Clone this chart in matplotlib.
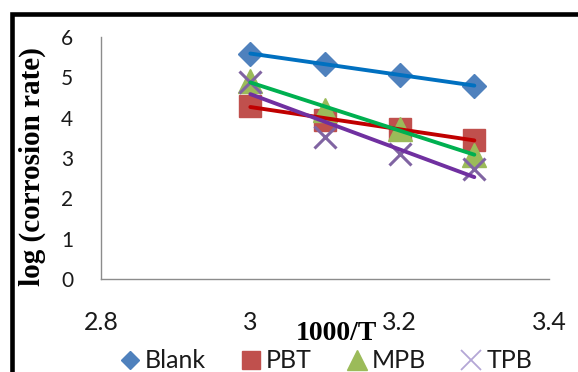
import numpy as np
import matplotlib
matplotlib.use("Agg")
import matplotlib.pyplot as plt
from matplotlib.patches import Rectangle
from matplotlib.lines import Line2D

x_vals = [3.0, 3.1, 3.2, 3.3]
blank = [5.59, 5.32, 5.07, 4.79]
pbt = [4.30, 3.93, 3.72, 3.45]
mpb = [4.92, 4.18, 3.73, 3.08]
tpb = [4.88, 3.51, 3.10, 2.73]
series_names = ["Blank", "PBT", "MPB", "TPB"]
x_ticks = [2.8, 3.0, 3.2, 3.4]
x_tick_labels = ["2.8", "3", "3.2", "3.4"]
y_ticks = [0, 1, 2, 3, 4, 5, 6]

W, H = 578, 372
fig = plt.figure(figsize=(W / 100, H / 100), dpi=100)
ax = fig.add_axes([101 / W, (H - 279) / H, 448 / W, 242 / H])

series = [blank, pbt, mpb, tpb]
markers = ["D", "s", "^", "x"]
mcolors = ["#4F81BD", "#C0504D", "#9BBB59", "#8064A2"]
lcolors = ["#0070C0", "#C00000", "#00B050", "#7030A0"]
msizes = [12.5, 16, 17, 16]

for i, (ys, m, mc, ms) in enumerate(zip(series, markers, mcolors, msizes)):
    if m == "x":
        ax.plot(x_vals, ys, linestyle="none", marker=m, markersize=ms,
                markeredgecolor=mc, markeredgewidth=2.2, zorder=3 + i)
    else:
        ax.plot(x_vals, ys, linestyle="none", marker=m, markersize=ms,
                markerfacecolor=mc, markeredgecolor=mc, zorder=3 + i)

xa = np.array(x_vals)
for ys, lc in zip(series, lcolors):
    k, b = np.polyfit(xa, np.array(ys), 1)
    ax.plot([xa[0], xa[-1]], [k * xa[0] + b, k * xa[-1] + b], color=lc,
            linewidth=2.8, solid_capstyle="round", zorder=10)

ax.set_xlim(2.8, 3.4)
ax.set_ylim(0, 6)
ax.set_xticks(x_ticks)
ax.set_xticklabels(x_tick_labels)
ax.set_yticks(y_ticks)
for s in ["top", "right"]:
    ax.spines[s].set_visible(False)
for s in ["left", "bottom"]:
    ax.spines[s].set_color("#8C8C8C")
    ax.spines[s].set_linewidth(1.0)
ax.tick_params(axis="x", length=0, pad=23, labelsize=18)
ax.tick_params(axis="y", length=0, pad=20, labelsize=15)
for lab in ax.get_xticklabels() + ax.get_yticklabels():
    lab.set_fontfamily("Lato")
    lab.set_color("#1a1a1a")

fig.text(32 / W, 1 - 167 / H, "log (corrosion rate)", rotation=90,
         ha="center", va="center", fontsize=21, fontweight="bold",
         family="Liberation Serif")
fig.text(336 / W, 1 - 333 / H, "1000/T", ha="center", va="center",
         fontsize=20, fontweight="bold", family="Liberation Serif")

handles = []
leg_sizes = {"D": 9, "s": 13.5, "^": 15, "x": 14}
for name, m, mc in zip(series_names, markers, mcolors):
    if m == "x":
        h = Line2D([], [], linestyle="none", marker=m, markersize=leg_sizes[m],
                   markeredgecolor="#B4A7D6", markeredgewidth=1.3, label=name)
    else:
        h = Line2D([], [], linestyle="none", marker=m, markersize=leg_sizes[m],
                   markerfacecolor=mc, markeredgecolor=mc, label=name)
    handles.append(h)
leg = fig.legend(handles=handles, loc="center", bbox_to_anchor=(326 / W, 1 - 361 / H),
                 ncol=4, frameon=False, prop={"family": "Lato", "size": 18},
                 handlelength=0.8, handletextpad=0.2, columnspacing=1.4,
                 borderaxespad=0, borderpad=0)
for t in leg.get_texts():
    t.set_color("#1a1a1a")

fig.patches.append(Rectangle((12.5 / W, -0.1), 1.2, 1 - 14 / H + 0.1,
                             transform=fig.transFigure, fill=False,
                             edgecolor="black", linewidth=3.3))

fig.savefig("out.png", dpi=100)
